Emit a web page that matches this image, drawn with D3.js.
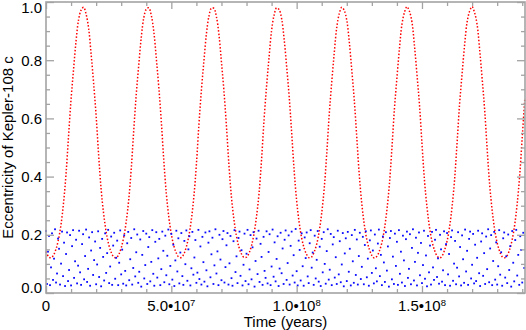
<!DOCTYPE html>
<html>
<head>
<meta charset="utf-8">
<script src="https://cdn.jsdelivr.net/npm/d3@7"></script>
<style>
  body{ margin:0; background:white; }
  svg text{ font-family: "Liberation Sans", Arial, Helvetica, sans-serif; fill:black; }
</style>
</head>
<body>
<svg id="chart" width="526" height="330"></svg>
<script>

// Kepler-108 c (red), one sample every 1e6 years.
const redStep = 1e6;
const redE = [
  .143,.125,.121,.130,.151,.185,.236,.310,.410,.540,.666,.769,.867,.939,.972,.982,.958,.910,.821,.721,
  .609,.474,.356,.272,.210,.167,.140,.124,.121,.132,.155,.191,.245,.320,.426,.558,.682,.783,.878,.945,
  .975,.980,.954,.899,.807,.707,.590,.455,.342,.261,.202,.162,.137,.123,.122,.134,.159,.197,.253,.332,
  .442,.578,.697,.797,.891,.951,.979,.978,.949,.888,.793,.693,.572,.438,.328,.251,.195,.157,.134,.122,
  .123,.137,.163,.204,.264,.343,.459,.596,.711,.811,.902,.955,.980,.974,.943,.873,.779,.677,.552,.421,
  .317,.242,.189,.154,.132,.121,.124,.141,.168,.212,.275,.360,.479,.614,.725,.825,.913,.960,.982,.971,
  .937,.863,.765,.662,.533,.404,.306,.234,.183,.150,.129,.120,.126,.144,.173,.219,.285,.374,.497,.632,
  .739,.839,.923,.964,.984,.968,.931,.850,.751,.647,.513,.387,.295,.226,.177,.147,.127,.120,.127,.147,
  .178,.227,.296,.389,.516,.649,.753,.852,.931,.968,.984,.963,.922,.837,.737,.630,.495,.372,.284,.218,
  .172,.143,.125,.121,.129,.150,.184,.235,.308,.406,.536,.664
];

// Kepler-108 b (blue), one sample every 4e5 years. Too dense to read dot by dot, so these are estimates.
const blueStep = 4e5;
const blueE = [
  .213,.031,.142,.196,.027,.088,.205,.045,.118,.219,.036,.067,.187,.152,.029,.101,.211,.058,.173,.024,
  .134,.208,.041,.079,.199,.026,.161,.216,.052,.109,.183,.033,.094,.214,.071,.028,.168,.202,.047,.127,
  .218,.038,.083,.191,.025,.146,.209,.062,.113,.177,.030,.098,.212,.055,.155,.023,.186,.124,.043,.205,
  .069,.137,.217,.034,.091,.194,.028,.163,.207,.049,.121,.180,.027,.104,.215,.064,.149,.032,.198,.076,
  .026,.171,.210,.044,.116,.189,.029,.086,.219,.057,.140,.201,.035,.073,.184,.022,.131,.213,.050,.096,
  .204,.031,.158,.192,.040,.107,.216,.066,.025,.176,.209,.053,.119,.186,.027,.082,.211,.145,.037,.197,
  .061,.128,.218,.030,.093,.203,.046,.166,.024,.112,.214,.074,.188,.033,.139,.206,.058,.028,.179,.099,
  .215,.042,.150,.195,.026,.085,.210,.063,.122,.182,.035,.070,.217,.048,.160,.029,.193,.106,.039,.208,
  .078,.023,.173,.212,.054,.133,.190,.031,.095,.219,.067,.143,.027,.200,.115,.044,.185,.213,.036,.089,
  .164,.206,.029,.102,.196,.051,.025,.178,.216,.072,.126,.034,.189,.211,.059,.147,.026,.097,.204,.041,
  .135,.217,.030,.081,.199,.047,.157,.209,.022,.110,.187,.065,.214,.038,.169,.124,.028,.193,.076,.052,
  .212,.033,.141,.202,.027,.091,.218,.056,.174,.040,.117,.195,.024,.084,.207,.068,.153,.031,.183,.215,
  .045,.103,.198,.029,.162,.211,.060,.130,.036,.220,.075,.026,.180,.148,.043,.205,.092,.025,.191,.120,
  .208,.057,.034,.171,.216,.087,.139,.028,.197,.050,.114,.213,.039,.159,.024,.186,.071,.209,.100,.032,
  .144,.219,.046,.080,.203,.027,.167,.192,.053,.123,.031,.214,.064,.178,.037,.098,.206,.023,.136,.188,
  .041,.210,.073,.152,.026,.199,.109,.035,.217,.062,.184,.029,.127,.207,.048,.090,.193,.030,.165,.212,
  .054,.118,.025,.181,.215,.069,.146,.033,.201,.085,.040,.170,.218,.058,.131,.027,.194,.105,.038,.209,
  .077,.160,.022,.189,.213,.047,.125,.031,.204,.093,.176,.028,.216,.066,.142,.036,.197,.112,.024,.185,
  .211,.052,.083,.202,.030,.155,.219,.043,.107,.190,.026,.138,.208,.061,.172,.034,.096,.214,.049,.129,
  .023,.196,.071,.163,.029,.210,.088,.045,.183,.217,.055,.119,.032,.200,.150,.039,.078,.212,.027,.168,
  .206,.064,.134,.025,.192,.215,.042,.101,.179,.030,.087,.209,.057,.158,.026,.198,.116,.035,.218,.074,
  .145,.028,.186,.211,.050,.097,.203,.033,.166,.041,.121,.214,.068,.024,.177,.205,.059,.137,.031,.194,
  .082,.219,.037,.153,.199,.027,.110,.210,.046,.174,.029,.092,.216,.063,.140,.025,.188,.208,.053,.126,
  .034,.201,.079,.161,.022,.213,.104,.040,.182,.217,.060,.131,.028,.195,.148,.036,.207,.086
];

// Tick labels. Second entry is the power of ten (superscript).
const xMajor = [0, 5e7, 1e8, 1.5e8];
const xLabels = [["0", ""], ["5.0\u202210", "7"], ["1.0\u202210", "8"], ["1.5\u202210", "8"]];
const yMajor = [0, 0.2, 0.4, 0.6, 0.8, 1.0];
const yLabels = ["0.0", "0.2", "0.4", "0.6", "0.8", "1.0"];

const xTitle = "Time (years)";
const yTitle = "Eccentricity of Kepler-108 c";


// Plot box.
const box = {left: 46, right: 525, top: 2, bottom: 293};
const axisColor = "#a3a3a3";

const svg = d3.select("#chart");

const x = d3.scaleLinear().domain([0, 1.911e8]).range([box.left, box.right]);
const y = d3.scaleLinear().domain([0, 1]).range([box.bottom, box.top]);

const xMinor = d3.range(0, 1.911e8, 1e7).filter(v => !xMajor.includes(v));
const yMinor = d3.range(0, 1.0001, 0.05).filter(v => !yMajor.some(m => Math.abs(m - v) < 1e-6));


// Red series: dotted curve.
const redLine = d3.line()
  .x((d, i) => x(i * redStep))
  .y(d => y(d))
  .curve(d3.curveCatmullRom.alpha(0.5));

svg.append("path")
  .datum(redE)
  .attr("d", redLine)
  .attr("fill", "none")
  .attr("stroke", "#ff0000")
  .attr("stroke-width", 1.5)
  .attr("stroke-dasharray", "1.5,1.9");


// Blue series: small square dots.
svg.append("g")
  .selectAll("rect")
  .data(blueE)
  .join("rect")
    .attr("x", (d, i) => x(i * blueStep) - 0.9)
    .attr("y", d => y(d) - 0.9)
    .attr("width", 1.8)
    .attr("height", 1.8)
    .attr("fill", "#0a0aff");


// Ticks (pointing inwards on all four sides), no domain lines - the frame is drawn below.
function ticks(axis, values, size, transform){
  const g = svg.append("g")
    .attr("transform", transform)
    .call(axis.tickValues(values).tickSize(size).tickSizeOuter(0).tickFormat(""));
  g.select(".domain").remove();
  g.selectAll("line").attr("stroke", axisColor).attr("stroke-width", 1.3);
  g.selectAll("text").remove();
} // ticks

ticks(d3.axisBottom(x), xMajor, -7, `translate(0,${box.bottom})`);
ticks(d3.axisBottom(x), xMinor, -4, `translate(0,${box.bottom})`);
ticks(d3.axisTop(x), xMajor, -7, `translate(0,${box.top})`);
ticks(d3.axisTop(x), xMinor, -4, `translate(0,${box.top})`);
ticks(d3.axisLeft(y), yMajor, -8, `translate(${box.left},0)`);
ticks(d3.axisLeft(y), yMinor, -4, `translate(${box.left},0)`);
ticks(d3.axisRight(y), yMajor, -8, `translate(${box.right},0)`);
ticks(d3.axisRight(y), yMinor, -4, `translate(${box.right},0)`);

// Frame.
svg.append("rect")
  .attr("x", box.left).attr("y", box.top)
  .attr("width", box.right - box.left).attr("height", box.bottom - box.top)
  .attr("fill", "none")
  .attr("stroke", axisColor)
  .attr("stroke-width", 1.6);


// X tick labels with superscript exponents.
const xl = svg.append("g")
  .selectAll("text")
  .data(xMajor)
  .join("text")
    .attr("x", d => x(d))
    .attr("y", 311)
    .attr("text-anchor", "middle")
    .style("font-size", "15px");

xl.append("tspan").text((d, i) => xLabels[i][0]);
xl.append("tspan")
  .attr("dy", -5.5)
  .style("font-size", "9.5px")
  .text((d, i) => xLabels[i][1]);

// Y tick labels. End labels sit a little inside like in the original.
svg.append("g")
  .selectAll("text")
  .data(yMajor)
  .join("text")
    .attr("x", 42)
    .attr("y", d => Math.min(288, Math.max(8, y(d))))
    .attr("dy", "0.36em")
    .attr("text-anchor", "end")
    .style("font-size", "15px")
    .text((d, i) => yLabels[i]);


// Axis titles.
svg.append("text")
  .attr("x", (box.left + box.right) / 2)
  .attr("y", 327)
  .attr("text-anchor", "middle")
  .style("font-size", "15px")
  .text(xTitle);

svg.append("text")
  .attr("transform", `translate(13,${(box.top + box.bottom) / 2}) rotate(-90)`)
  .attr("text-anchor", "middle")
  .style("font-size", "15px")
  .text(yTitle);

</script>
</body>
</html>
